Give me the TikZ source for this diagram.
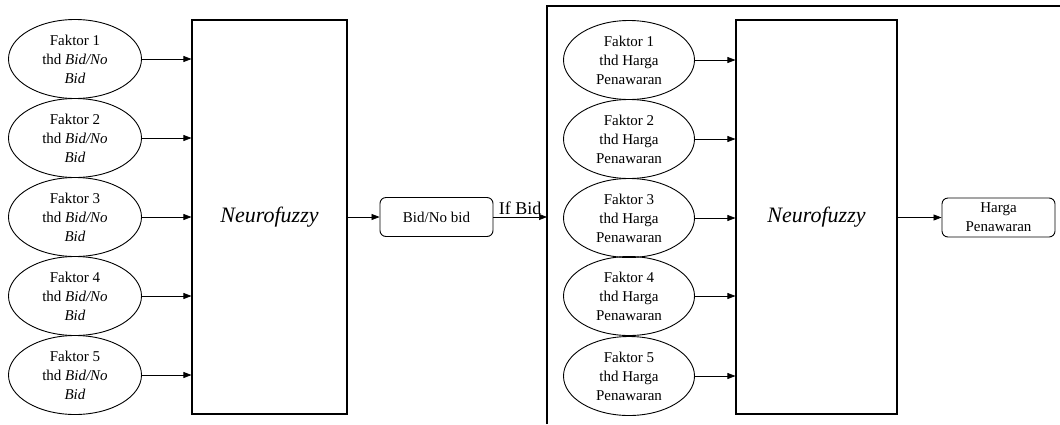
\documentclass[tikz,border=0pt]{standalone}
\usepackage{fontspec}
\setmainfont{Liberation Serif}
\usetikzlibrary{shapes.geometric,arrows.meta}
\begin{document}
\begin{tikzpicture}[x=1pt,y=-1pt,
  fak/.style={draw,line width=0.9pt,ellipse,minimum width=133pt,minimum height=79pt,inner sep=0pt,align=center,font=\fontsize{15}{19}\selectfont},
  nfbox/.style={draw,line width=1.1pt,minimum width=155pt,minimum height=394pt,inner sep=0pt,font=\fontsize{22}{26}\selectfont\itshape},
  outbox/.style={draw,line width=0.9pt,rounded corners=6pt,minimum width=113pt,minimum height=39pt,inner sep=0pt,align=center,font=\fontsize{15}{19}\selectfont},
  arr/.style={line width=0.7pt,-{Triangle[length=8pt,width=6pt]}}
]
\useasboundingbox (0,0) rectangle (1060,424);
% left block
\node[nfbox] (nf1) at (269.5,217) {Neurofuzzy};
\foreach \i/\y in {1/59,2/138,3/217,4/296,5/375}{
  \node[fak] (a\i) at (75,\y) {Faktor \i\\thd \textit{Bid/No}\\\textit{Bid}};
  \draw[arr] (a\i.east) -- (a\i.east -| nf1.west);
}
\node[outbox] (bid) at (436.5,217) {Bid/No bid};
\draw[arr] (nf1.east |- bid.west) -- (bid.west);
% frame
\coordinate (fbl) at (547,424);
\coordinate (ftl) at (547,6);
\coordinate (ftr) at (1060,6);
\draw[line width=1.1pt] (fbl) -- (ftl) -- (ftr);
\coordinate (fin) at (547,217);
\draw[arr] (bid.east) -- node[above,font=\fontsize{18}{20}\selectfont,inner sep=2pt] {If Bid} (fin);
% right block
\node[nfbox,minimum width=161pt] (nf2) at (816.5,217) {Neurofuzzy};
\foreach \i/\y in {1/60,2/139,3/218,4/296,5/376}{
  \node[fak,minimum width=131pt] (b\i) at (629,\y) {Faktor \i\\thd Harga\\Penawaran};
  \draw[arr] (b\i.east) -- (b\i.east -| nf2.west);
}
\node[outbox] (hp) at (998.5,217.5) {Harga\\Penawaran};
\draw[arr] (nf2.east |- hp.west) -- (hp.west);
\end{tikzpicture}
\end{document}
